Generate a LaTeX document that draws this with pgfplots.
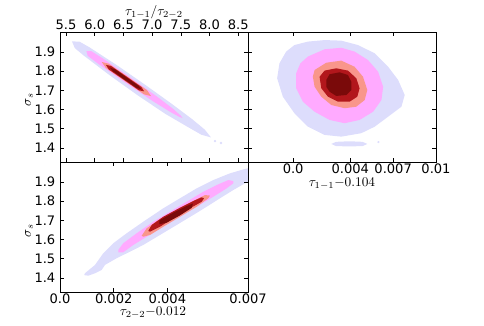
\documentclass[border=0pt]{standalone}
\usepackage{pgfplots}
\pgfplotsset{compat=1.18}
\usepackage{fontspec}
\newfontfamily\tickfont{DejaVu Sans}

\definecolor{lav}{RGB}{221,221,252}
\definecolor{pnk}{RGB}{255,170,255}
\definecolor{slm}{RGB}{249,150,139}
\definecolor{rd}{RGB}{178,23,28}
\definecolor{drd}{RGB}{122,10,10}

\pgfplotsset{
  panel/.style={
    scale only axis,
    width=141pt, height=97.5pt,
    ymin=1.327, ymax=2.004,
    ytick={1.4,1.5,1.6,1.7,1.8,1.9},
    axis on top,
    tick align=inside,
    major tick length=3pt,
    axis line style={line width=0.6pt},
    tick style={black, line width=0.5pt},
    tick label style={font=\fontsize{9.8}{11}\selectfont\tickfont},
    xticklabel style={inner sep=1.5pt},
    label style={font=\fontsize{10}{12}\selectfont},
    scaled ticks=false,
  },
  blob/.style={draw=none, mark=none},
}

\begin{document}
\begin{tikzpicture}
\path[use as bounding box] (0pt,0pt) rectangle (363pt,243.75pt);

% top left: sigma_s against tau ratio
\begin{axis}[panel, at={(45pt,122.25pt)}, anchor=south west,
    xmin=5.395, xmax=8.67,
    xtick={5.5,6.0,6.5,7.0,7.5,8.0,8.5},
    xticklabels={5.5,6.0,6.5,7.0,7.5,8.0,8.5},
    yticklabels={1.4,1.5,1.6,1.7,1.8,1.9},
    xticklabel pos=upper,
    xlabel={$\tau_{1-1}/\tau_{2-2}$},
    xlabel style={at={(axis description cs:0.5,1.15)}, anchor=center},
    ylabel={$\sigma_s$},
    ylabel style={at={(axis description cs:-0.165,0.48)}, anchor=center},
  ]
  \addplot[blob, fill=lav] coordinates {
    (5.604,1.955) (5.733,1.954) (5.910,1.924) (6.397,1.829) (6.874,1.730)
    (7.346,1.629) (7.694,1.551) (7.919,1.495) (8.025,1.455) (7.858,1.469)
    (7.606,1.512) (7.228,1.578) (6.745,1.675) (6.273,1.776) (5.810,1.881)
    (5.653,1.920)
  } -- cycle;
  \addplot[lav, only marks, mark=*, mark size=0.7pt]
    coordinates {(8.095,1.436) (8.20,1.426)};
  \addplot[blob, fill=pnk] coordinates {
    (5.855,1.905) (5.937,1.905) (6.133,1.868) (6.611,1.769) (7.083,1.668)
    (7.360,1.605) (7.493,1.570) (7.531,1.556) (7.473,1.562) (7.320,1.587)
    (7.023,1.642) (6.541,1.739) (6.063,1.838) (5.877,1.880)
  } -- cycle;
  \addplot[blob, fill=slm] coordinates {
    (6.122,1.848) (6.243,1.839) (6.577,1.770) (6.911,1.701) (6.982,1.670)
    (6.861,1.679) (6.527,1.748) (6.193,1.817)
  } -- cycle;
  \addplot[blob, fill=rd] coordinates {
    (6.194,1.833) (6.285,1.827) (6.548,1.773) (6.811,1.718) (6.862,1.695)
    (6.771,1.700) (6.508,1.755) (6.245,1.809)
  } -- cycle;
  \addplot[blob, fill=drd] coordinates {
    (6.265,1.818) (6.351,1.810) (6.554,1.767) (6.757,1.725) (6.815,1.705)
    (6.729,1.713) (6.526,1.755) (6.323,1.798)
  } -- cycle;
\end{axis}

% top right: sigma_s against tau_{1-1}
\begin{axis}[panel, at={(186pt,122.25pt)}, anchor=south west,
    xmin=-0.00316, xmax=0.01,
    xtick={0,0.004,0.007,0.01},
    xticklabels={0.0,0.004,0.007,0.01},
    yticklabels={},
    xlabel={$\tau_{1-1}{-}0.104$},
    xlabel style={at={(axis description cs:0.5,-0.165)}, anchor=center},
  ]
  \addplot[blob, fill=lav] coordinates {
    (0.00009,1.936) (0.00103,1.954) (0.00220,1.962) (0.00337,1.959)
    (0.00454,1.936) (0.00571,1.893) (0.00665,1.823) (0.00735,1.754)
    (0.00781,1.676) (0.00758,1.615) (0.00665,1.563) (0.00571,1.511)
    (0.00477,1.477) (0.00337,1.459) (0.00220,1.468) (0.00103,1.511)
    (0.00009,1.581) (-0.00072,1.667) (-0.00112,1.763) (-0.00096,1.841)
    (-0.00049,1.902)
  } -- cycle;
  \addplot[blob, fill=lav] coordinates {
    (0.00267,1.421) (0.00300,1.432) (0.00393,1.435) (0.00486,1.432)
    (0.00519,1.421) (0.00486,1.410) (0.00393,1.408) (0.00300,1.410)
  } -- cycle;
  \addplot[lav, only marks, mark=*, mark size=0.6pt]
    coordinates {(0.00597,1.431)};
  \addplot[blob, fill=pnk] coordinates {
    (0.00103,1.876) (0.00220,1.914) (0.00337,1.922) (0.00430,1.902)
    (0.00524,1.858) (0.00595,1.797) (0.00630,1.719) (0.00618,1.650)
    (0.00560,1.589) (0.00465,1.546) (0.00360,1.529) (0.00255,1.546)
    (0.00150,1.589) (0.00068,1.641) (0.00021,1.711) (0.00021,1.789)
    (0.00051,1.841)
  } -- cycle;
  \addplot[blob, fill=slm] coordinates {
    (0.00150,1.806) (0.00232,1.844) (0.00337,1.855) (0.00430,1.823)
    (0.00489,1.771) (0.00519,1.702) (0.00501,1.650) (0.00442,1.615)
    (0.00360,1.607) (0.00267,1.624) (0.00197,1.667) (0.00150,1.719)
    (0.00138,1.771)
  } -- cycle;
  \addplot[blob, fill=rd] coordinates {
    (0.00185,1.771) (0.00220,1.803) (0.00302,1.815) (0.00384,1.803)
    (0.00442,1.763) (0.00465,1.711) (0.00449,1.667) (0.00395,1.641)
    (0.00314,1.641) (0.00244,1.667) (0.00197,1.711)
  } -- cycle;
  \addplot[blob, fill=drd] coordinates {
    (0.00232,1.754) (0.00255,1.784) (0.00325,1.794) (0.00384,1.780)
    (0.00407,1.745) (0.00407,1.702) (0.00372,1.676) (0.00302,1.671)
    (0.00255,1.693) (0.00232,1.719)
  } -- cycle;
\end{axis}

% bottom left: sigma_s against tau_{2-2}
\begin{axis}[panel, at={(45pt,24.75pt)}, anchor=south west,
    xmin=0, xmax=0.007,
    xtick={0,0.002,0.004,0.007},
    xticklabels={0.0,0.002,0.004,0.007},
    yticklabels={1.4,1.5,1.6,1.7,1.8,1.9},
    xlabel={$\tau_{2-2}{-}0.012$},
    xlabel style={at={(axis description cs:0.495,-0.16)}, anchor=center},
    ylabel={$\sigma_s$},
    ylabel style={at={(axis description cs:-0.165,0.47)}, anchor=center},
  ]
  \addplot[blob, fill=lav] coordinates {
    (0.00090,1.415) (0.000931,1.425) (0.001303,1.468) (0.001612,1.529)
    (0.001984,1.581) (0.002483,1.633) (0.003101,1.693) (0.003846,1.763)
    (0.004468,1.815) (0.005089,1.867) (0.005707,1.910) (0.006329,1.945)
    (0.006888,1.968) (0.00700,1.971) (0.00700,1.902) (0.006452,1.858)
    (0.005957,1.815) (0.005462,1.771) (0.004963,1.728) (0.004345,1.676)
    (0.003723,1.624) (0.003101,1.572) (0.002606,1.537) (0.002111,1.503)
    (0.001675,1.468) (0.001552,1.442) (0.001303,1.4245) (0.001054,1.412)
  } -- cycle;
  \addplot[blob, fill=pnk] coordinates {
    (0.002170,1.546) (0.002357,1.581) (0.002856,1.633) (0.003474,1.693)
    (0.004095,1.745) (0.004717,1.797) (0.005335,1.849) (0.005834,1.884)
    (0.006266,1.910) (0.006452,1.905) (0.006452,1.893) (0.006206,1.867)
    (0.005707,1.823) (0.005089,1.771) (0.004468,1.719) (0.003846,1.667)
    (0.003228,1.615) (0.002729,1.572) (0.002357,1.534) (0.002170,1.534)
  } -- cycle;
  \addplot[blob, fill=slm] coordinates {
    (0.003042,1.620) (0.003228,1.659) (0.003723,1.707) (0.004345,1.754)
    (0.004963,1.801) (0.005398,1.832) (0.005585,1.829) (0.005521,1.815)
    (0.005089,1.771) (0.004468,1.719) (0.003846,1.667) (0.003351,1.624)
    (0.003101,1.615)
  } -- cycle;
  \addplot[blob, fill=rd] coordinates {
    (0.003287,1.645) (0.003414,1.676) (0.003846,1.719) (0.004468,1.766)
    (0.004963,1.801) (0.005275,1.820) (0.005361,1.815) (0.005275,1.797)
    (0.004840,1.763) (0.004218,1.711) (0.003723,1.667) (0.003351,1.641)
  } -- cycle;
  \addplot[blob, fill=drd] coordinates {
    (0.003700,1.700) (0.004218,1.740) (0.004717,1.775) (0.004950,1.788)
    (0.004903,1.765) (0.004468,1.726) (0.003972,1.688) (0.003700,1.680)
  } -- cycle;
\end{axis}
\end{tikzpicture}
\end{document}
